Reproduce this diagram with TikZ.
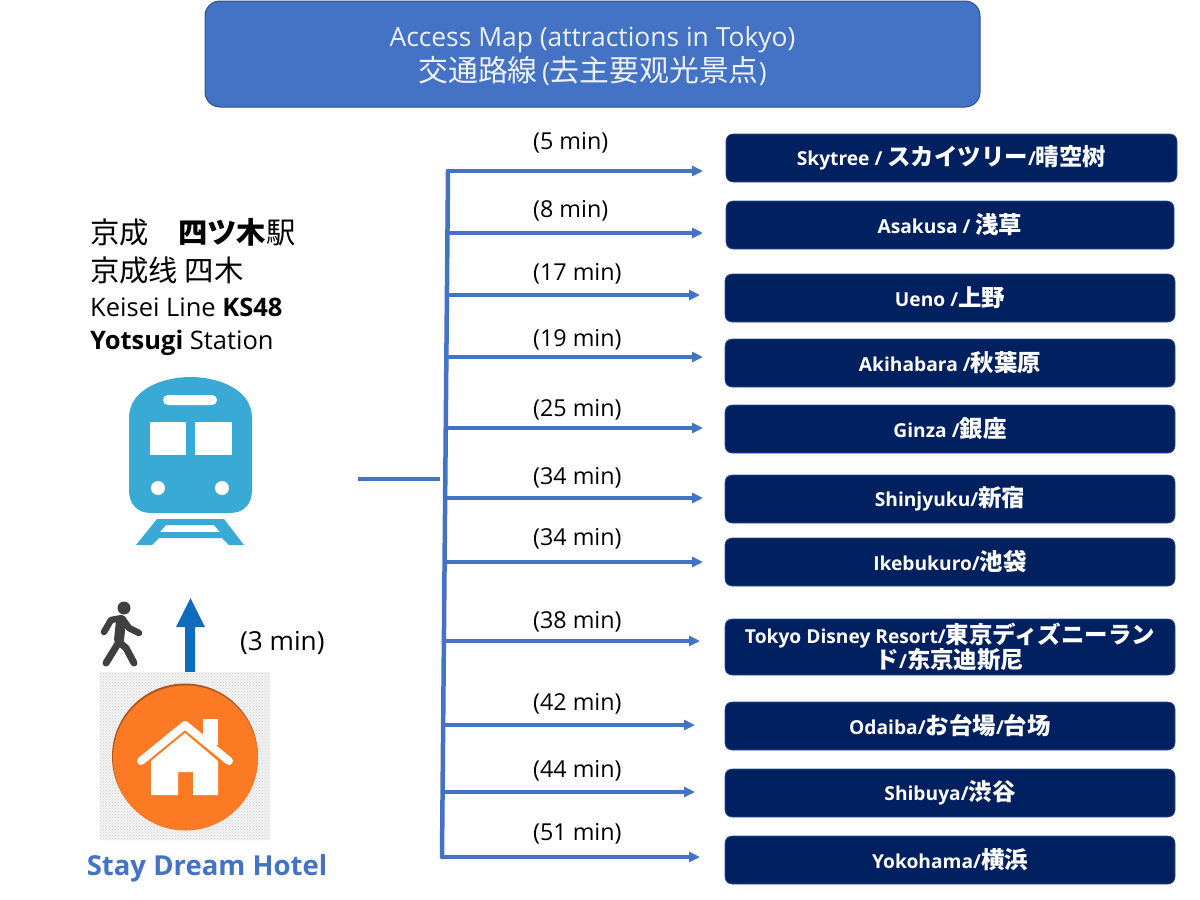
\documentclass[tikz,border=0pt]{standalone}
\usepackage{fontspec}
\setmainfont{Open Sans}
\newfontfamily\cj[Scale=1.22]{Noto Sans CJK JP}
\newfontfamily\cjl[Scale=1.15]{Noto Sans CJK JP}
\newfontfamily\cjt[Scale=1.13]{Noto Sans CJK JP}
\usetikzlibrary{arrows.meta,patterns}
\definecolor{navy}{HTML}{002060}
\definecolor{accent}{HTML}{4472C4}
\definecolor{trainblue}{HTML}{39A9D6}
\definecolor{walkgray}{HTML}{404040}
\definecolor{upblue}{HTML}{0F6CBD}
\definecolor{orangeicon}{HTML}{FC7A23}
\tikzset{
  dest/.style={draw=accent!60!navy,line width=0.6pt,fill=navy,rounded corners=7pt,text=white,font=\fontsize{19.2}{25}\selectfont\bfseries,align=center,inner sep=0pt},
  branch/.style={draw=accent,line width=3.8pt,-{Triangle[length=11pt,width=10pt]}},
  trunkline/.style={draw=accent,line width=4.5pt},
  timelabel/.style={anchor=west,font=\fontsize{23.3}{27}\selectfont,inner sep=0pt},
  infotext/.style={anchor=west,font=\fontsize{25.5}{29}\selectfont,inner sep=0pt}
}
\newcommand{\destbox}[6]{% name x1 y1 x2 y2 text
  \node[dest,minimum width=#4pt-#2pt,minimum height=#5pt-#3pt] (#1) at ({(#2+#4)/2},{(#3+#5)/2}) {#6};}
\newcommand{\route}[5]{% name y endx labely time
  \coordinate (t#1) at ({448-6*(#2-171)/686},#2);
  \coordinate (e#1) at (#3,#2);
  \draw[branch] (t#1) -- (e#1);
  \node[timelabel] (l#1) at (533,#4) {(#5 min)};}
\begin{document}
\begin{tikzpicture}[x=1pt,y=-1pt]
\useasboundingbox (0,0) rectangle (1200,900);
% title
\node[draw=accent!70!black,line width=1pt,fill=accent,rounded corners=15pt,minimum width=775pt,minimum height=106pt,inner sep=0pt] (title) at (592.5,54) {};
\node[inner sep=0pt,text=white!90!accent,align=center,font=\fontsize{26.4}{35}\selectfont] (titletext) at (592.5,56) {Access Map (attractions in Tokyo)\\{\cjt 交通路線}\,({\cjt 去主要观光景点})};
% destinations
\destbox{a}{726}{134}{1177}{182}{Skytree / {\cj スカイツリー}/{\cj 晴空树}}
\destbox{b}{726}{201}{1174}{249}{Asakusa / {\cj 浅草}}
\destbox{c}{725}{274}{1175}{322}{Ueno /{\cj 上野}}
\destbox{d}{725}{339}{1175}{387}{Akihabara /{\cj 秋葉原}}
\destbox{e}{725}{405}{1175}{453}{Ginza /{\cj 銀座}}
\destbox{f}{725}{475}{1175}{523}{Shinjyuku/{\cj 新宿}}
\destbox{g}{725}{538}{1175}{586}{Ikebukuro/{\cj 池袋}}
\destbox{h}{725}{619}{1175}{675}{Tokyo Disney Resort/{\cj 東京ディズニーラン}\\{\cj ド}/{\cj 东京迪斯尼}}
\destbox{i}{725}{702}{1175}{750}{Odaiba/{\cj お台場}/{\cj 台场}}
\destbox{j}{725}{769}{1175}{817}{Shibuya/{\cj 渋谷}}
\destbox{k}{725}{836}{1175}{884}{Yokohama/{\cj 横浜}}
% routes
\route{a}{171}{703}{143}{5}
\route{b}{233}{703}{211}{8}
\route{c}{295}{700}{274}{17}
\route{d}{357}{703}{340}{19}
\route{e}{428}{703}{410}{25}
\route{f}{498}{703}{478}{34}
\route{g}{562}{703}{539}{34}
\route{h}{641}{700}{622}{38}
\route{i}{725}{695}{704}{42}
\route{j}{792}{695}{771}{44}
\route{k}{857}{700}{834}{51}
\draw[trunkline,line cap=round] (ta) -- (tk);
\coordinate (feedA) at (358,479);
\coordinate (feedB) at (440,479);
\draw[trunkline,line width=3.8pt] (feedA) -- (feedB);
% station text
\node[infotext] (s1) at (90,232) {\cjl 京成\quad{\bfseries 四ツ木}駅};
\node[infotext] (s2) at (90,270) {\cjl 京成线 四木};
\node[infotext] (s3) at (90,307) {Keisei Line \textbf{KS48}};
\node[infotext] (s4) at (90,343) {\textbf{Yotsugi} Station};
% train
\fill[trainblue] (129,418) .. controls (129,388) and (165,377) .. (190.5,377) .. controls (216,377) and (252,388) .. (252,418) -- (252,490) .. controls (252,505) and (243,513) .. (230,513) -- (151,513) .. controls (138,513) and (129,505) .. (129,490) -- cycle;
\fill[white,rounded corners=4.9pt] (163,395) rectangle (217,405);
\fill[white] (150,422) rectangle (186,455);
\fill[white] (195,422) rectangle (232,455);
\fill[white] (158,488) circle (7);
\fill[white] (222,488) circle (7);
\fill[trainblue,even odd rule] (136,545) -- (157,519) -- (224,519) -- (244,545) -- (229,545) -- (222,538) -- (159,538) -- (152,545) -- cycle (160,532) -- (220,532) -- (214,525) -- (166,525) -- cycle;
% walker
\fill[walkgray] (124,608) circle (6.5);
\draw[walkgray,line width=6.5pt,line cap=round,line join=round] (104,632) -- (111,620) -- (122,618) -- (129,628) -- (139,633);
\draw[walkgray,line width=10pt,line cap=round,line join=round] (121,621) -- (119,640);
\draw[walkgray,line width=7pt,line cap=round,line join=round] (119,642) -- (106,663);
\draw[walkgray,line width=7pt,line cap=round,line join=round] (119,642) -- (126,648) -- (134,663);
% up arrow
\fill[upblue] (185,672) -- (185,627) -- (176,627) -- (190.5,598) -- (205,627) -- (195,627) -- (195,672) -- cycle;
\node[anchor=west,font=\fontsize{26.2}{29}\selectfont,inner sep=0pt] (w) at (240,643) {(3 min)};
% hotel icon
\fill[gray!10] (100,672) rectangle (270,840);
\fill[pattern=crosshatch dots,pattern color=gray!35] (100,672) rectangle (270,840);
\fill[orangeicon!70!black] (185,756.5) circle (73);
\fill[orangeicon] (185.5,758) circle (72.5);
\fill[white] (151,761) -- (185,733) -- (218,761) -- (218,795) -- (193,795) -- (193,772) -- (178,772) -- (178,795) -- (151,795) -- cycle;
\fill[white] (203,719) rectangle (218,745);
\draw[white,line width=8pt,line cap=round,line join=round] (141,761) -- (185,725) -- (229,761);
\node[font=\fontsize{27.5}{32}\selectfont\bfseries,text=accent,inner sep=0pt] (hotel) at (207,868) {Stay Dream Hotel};
\end{tikzpicture}
\end{document}
